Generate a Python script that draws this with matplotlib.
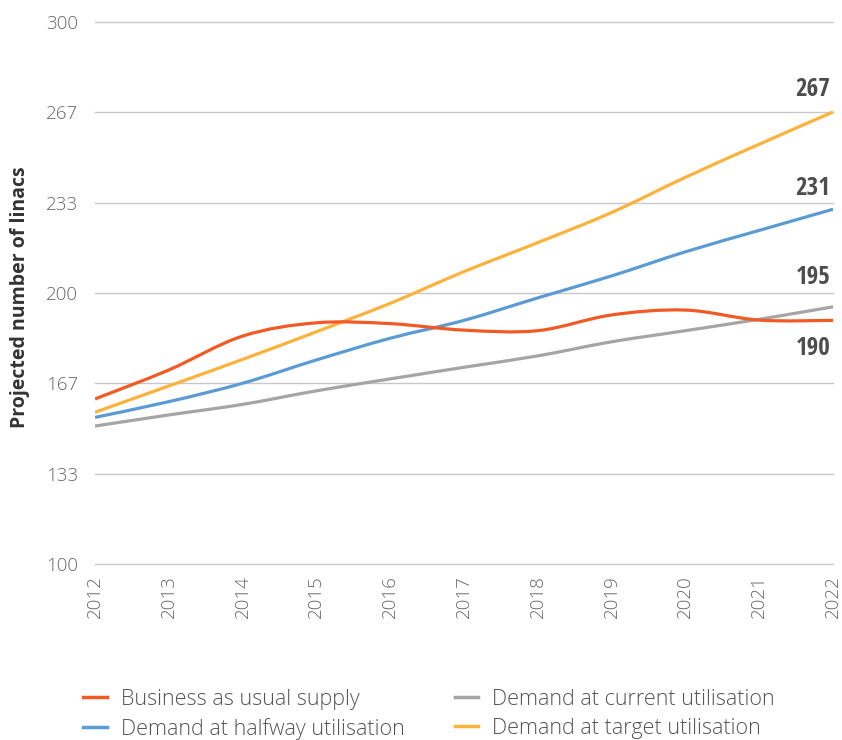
import matplotlib
matplotlib.use("Agg")
import matplotlib.pyplot as plt
from matplotlib.path import Path
from matplotlib.patches import PathPatch
from matplotlib.lines import Line2D
from matplotlib import font_manager as fm

years = [2012, 2013, 2014, 2015, 2016, 2017, 2018, 2019, 2020, 2021, 2022]
business_as_usual = [160.9, 171.6, 184.1, 189.0, 188.7, 186.3, 186.1, 191.9, 193.7, 190.0, 189.9]
demand_current = [150.9, 155.0, 158.9, 163.9, 168.3, 172.6, 176.8, 182.0, 186.1, 190.3, 194.9]
demand_halfway = [154.1, 159.9, 166.7, 175.3, 183.3, 189.9, 198.2, 206.3, 215.2, 223.1, 230.9]
demand_target = [156.0, 165.7, 175.5, 185.7, 196.2, 207.9, 218.6, 229.7, 242.7, 254.9, 266.8]

series_names = ["Business as usual supply", "Demand at current utilisation",
                "Demand at halfway utilisation", "Demand at target utilisation"]
series_values = [business_as_usual, demand_current, demand_halfway, demand_target]
series_colors = ["#F15A24", "#A5A5A5", "#5B9BD5", "#FDB23B"]

end_labels = ["190", "195", "231", "267"]
y_ticks = [100, 100 + 100 / 3, 100 + 200 / 3, 200, 200 + 100 / 3, 200 + 200 / 3, 300]
y_tick_labels = ["100", "133", "167", "200", "233", "267", "300"]

names = {f.name for f in fm.fontManager.ttflist}
base_font = "Open Sans" if "Open Sans" in names else "DejaVu Sans"
plt.rcParams['font.family'] = [base_font, 'DejaVu Sans']

# find a condensed bold face for the end labels
cond_prop = None
cands = []
for f in fm.fontManager.ttflist:
    nm = f.name
    st = str(f.stretch).lower()
    w = f.weight if isinstance(f.weight, int) else {'bold': 700}.get(str(f.weight), 400)
    is_cond = ('condensed' in st) or ('narrow' in nm.lower()) or ('condensed' in nm.lower()) \
        or ('condensed' in f.fname.lower()) or ('narrow' in f.fname.lower())
    if is_cond and (w >= 600 or 'bold' in f.fname.lower()):
        score = 0
        if 'Open Sans' in nm or 'OpenSans' in f.fname:
            score = 5
        elif 'Noto Sans' in nm:
            score = 4
        elif 'Roboto' in nm:
            score = 3
        elif 'Liberation' in nm:
            score = 2
        elif 'DejaVu' in nm:
            score = 1
        cands.append((score, f.fname))
if cands:
    cands.sort(reverse=True)
    cond_prop = fm.FontProperties(fname=cands[0][1], size=18)
else:
    cond_prop = fm.FontProperties(family=base_font, weight='bold', size=16)

fig = plt.figure(figsize=(8.42, 7.4), dpi=100)
ax = fig.add_axes([95 / 842, 1 - 564 / 740, 738 / 842, 542 / 740])
ax.set_xlim(2012, 2022)
ax.set_ylim(100, 300)


def smooth_path(xs, ys):
    pts = list(zip(xs, ys))
    verts = [pts[0]]
    codes = [Path.MOVETO]
    n = len(pts)
    for i in range(n - 1):
        p0 = pts[i - 1] if i > 0 else pts[i]
        p1 = pts[i]
        p2 = pts[i + 1]
        p3 = pts[i + 2] if i + 2 < n else pts[i + 1]
        c1 = (p1[0] + (p2[0] - p0[0]) / 6, p1[1] + (p2[1] - p0[1]) / 6)
        c2 = (p2[0] - (p3[0] - p1[0]) / 6, p2[1] - (p3[1] - p1[1]) / 6)
        verts += [c1, c2, p2]
        codes += [Path.CURVE4] * 3
    return Path(verts, codes)


draw_order = [1, 2, 3, 0]
for i in draw_order:
    patch = PathPatch(smooth_path(years, series_values[i]), fill=False,
                      edgecolor=series_colors[i], lw=2.3, capstyle='butt', zorder=3)
    ax.add_patch(patch)

# end labels
offsets = [(-2, -20), (-2, 21), (-2, 15), (-2, 16)]
for vals, lab, off in zip(series_values, end_labels, offsets):
    ax.annotate(lab, xy=(years[-1], vals[-1]), xytext=off, textcoords='offset points',
                ha='right', va='center', fontproperties=cond_prop,
                color='#4D4D4D', zorder=4)

ax.set_yticks(y_ticks)
ax.set_yticklabels(y_tick_labels)
ax.set_xticks(years)
ax.set_xticklabels([str(y) for y in years], rotation=90)
ax.grid(axis='y', color='#C8C8C8', lw=1.0, zorder=1)
ax.grid(axis='x', visible=False)
for gl in ax.get_ygridlines():
    gl.set_clip_on(False)
for s in ax.spines.values():
    s.set_visible(False)
ax.tick_params(axis='both', length=0, labelsize=13.5, colors='#666666')
ax.tick_params(axis='y', pad=12)
ax.tick_params(axis='x', pad=8)
for t in ax.get_xticklabels() + ax.get_yticklabels():
    t.set_fontweight('light')

fig.text(20 / 842, 1 - 297 / 740, "Projected number of linacs", rotation=90,
         ha='center', va='center', fontsize=14, fontweight='bold', color='#333333')

handles = [Line2D([], [], color=c, lw=2.5) for c in series_colors]
order = [0, 2, 1, 3]
leg = fig.legend([handles[i] for i in order], [series_names[i] for i in order],
                 ncol=2, loc='upper left', bbox_to_anchor=(83 / 842, 1 - 689 / 740),
                 frameon=False, fontsize=15.5, handlelength=1.1, handletextpad=0.65,
                 columnspacing=2.34, labelspacing=0.36, borderpad=0, borderaxespad=0)
for t in leg.get_texts():
    t.set_color('#555555')
    t.set_fontweight('light')

fig.savefig("out.png", dpi=100)
